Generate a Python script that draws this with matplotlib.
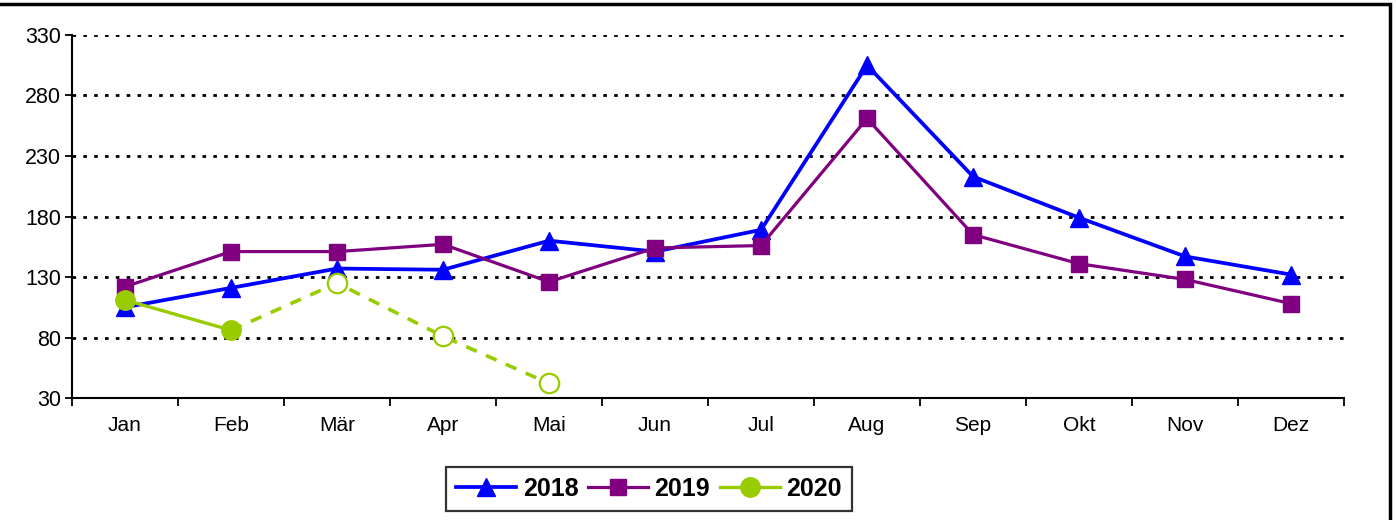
import matplotlib
matplotlib.use("Agg")
import matplotlib.pyplot as plt
from matplotlib.patches import Rectangle

plt.rcParams['font.family'] = ['Liberation Sans', 'DejaVu Sans']

months = ['Jan', 'Feb', 'Mär', 'Apr', 'Mai', 'Jun', 'Jul', 'Aug', 'Sep', 'Okt', 'Nov', 'Dez']
v2018 = [105, 121, 137, 136, 160, 151, 169, 305, 213, 179, 147, 132]
v2019 = [122, 151, 151, 157, 126, 154, 156, 261, 165, 141, 128, 108]
# 2020: actual values (solid) and forecast (dashed, open markers)
v2020_actual = [111, 86]
v2020_forecast = [86, 125, 81, 42]
yticks = [30, 80, 130, 180, 230, 280, 330]

fig = plt.figure(figsize=(13.96, 5.2), dpi=100)
ax = fig.add_axes([0.0516, 0.2346, 0.9112, 0.6981])

x = list(range(len(months)))
ax.plot(x, v2018, color='#0000FF', lw=2.7, marker='^', ms=13, label='2018', zorder=3)
ax.plot(x, v2019, color='#800080', lw=2.3, marker='s', ms=12, label='2019', zorder=3)
ax.plot(x[:2], v2020_actual, color='#99CC00', lw=2.4, marker='o', ms=14, label='2020', zorder=4)
ax.plot(x[1:5], v2020_forecast, color='#99CC00', lw=2.6, ls=(0, (3.2, 2.8)), zorder=4)
ax.plot(x[2:5], v2020_forecast[1:], ls='none', marker='o', ms=14, mfc='white',
        mec='#99CC00', mew=1.6, zorder=5)

ax.set_xlim(-0.5, 11.5)
ax.set_ylim(30, 330)
ax.set_yticks(yticks)
ax.set_yticklabels([str(t) for t in yticks], fontsize=15.5)
ax.set_xticks([i + 0.5 for i in range(-1, 12)])
ax.set_xticklabels([])
ax.set_xticks(x, minor=True)
ax.set_xticklabels(months, minor=True, fontsize=15)
ax.tick_params(axis='x', which='minor', length=0, pad=13)
ax.tick_params(axis='x', which='major', length=6, width=1.3, direction='out')
ax.tick_params(axis='y', length=5, width=1.3, direction='out', pad=3)

for t in yticks[1:]:
    ax.axhline(t, color='black', lw=2.0, ls=(0, (1.3, 2.6)), zorder=1)

ax.spines['top'].set_visible(False)
ax.spines['right'].set_visible(False)
ax.spines['left'].set_linewidth(1.5)
ax.spines['bottom'].set_linewidth(1.5)

leg = fig.legend(loc='center', bbox_to_anchor=(0.465, 0.0596), ncol=3, frameon=True,
                 fancybox=False, edgecolor='black', prop={'weight': 'bold', 'size': 18},
                 handlelength=2.4, columnspacing=0.4, handletextpad=0.25, borderpad=0.4,
                 borderaxespad=0)
leg.get_frame().set_linewidth(1.6)

# outer frame of the chart area
fig.patches.append(Rectangle((-0.01, -0.02), 1.0057, 1.0123, transform=fig.transFigure,
                             fill=False, edgecolor='black', lw=2.5))

fig.savefig('out.png', dpi=100)
